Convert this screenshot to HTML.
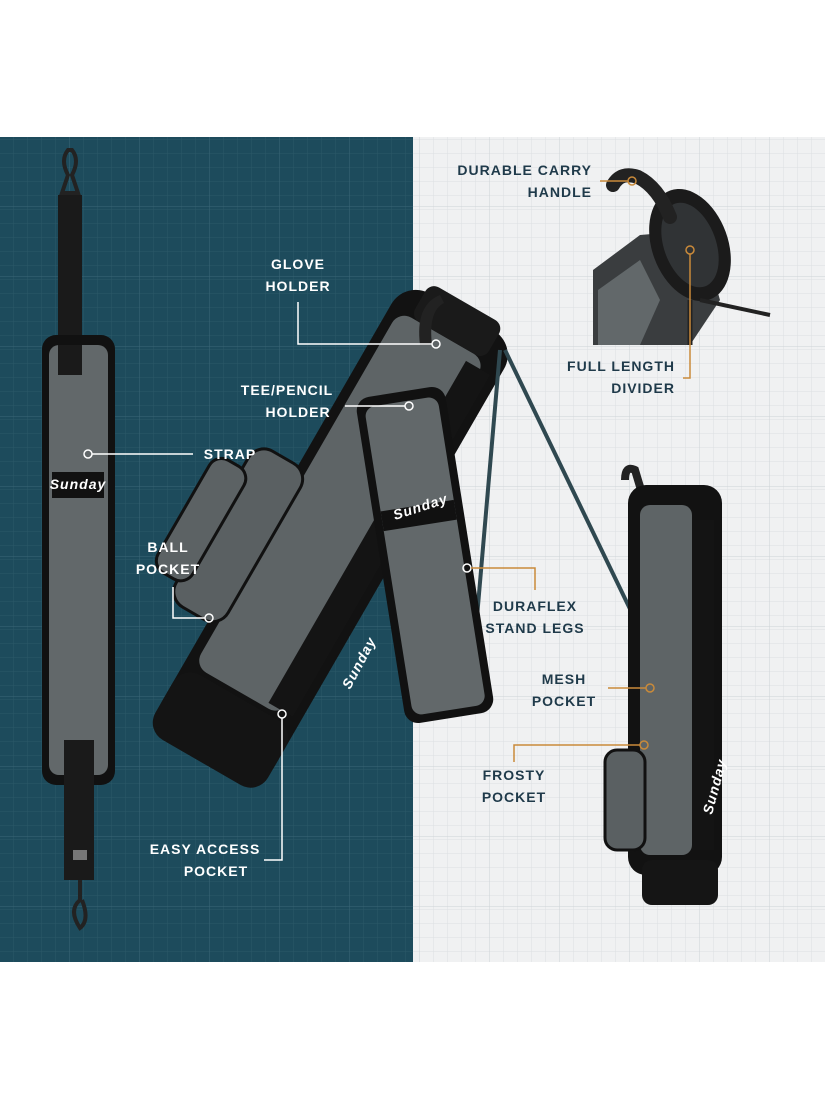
<!DOCTYPE html>
<html><head><meta charset="utf-8"><style>
html,body{margin:0;padding:0;background:#fff}
svg{display:block}
text{font-family:"Liberation Sans",sans-serif;font-weight:bold;font-size:14px;letter-spacing:1px}
</style></head><body>
<svg width="825" height="1100" viewBox="0 0 825 1100" xmlns="http://www.w3.org/2000/svg">
<defs>
<pattern id="gd" width="14" height="14" patternUnits="userSpaceOnUse"><path d="M14 0V14H0" fill="none" stroke="#2c5868" stroke-width="1"/></pattern>
<pattern id="gdm" x="0" y="137" width="70" height="70" patternUnits="userSpaceOnUse"><path d="M70 0V70H0" fill="none" stroke="#3b6777" stroke-width="1"/></pattern>
<pattern id="gl" width="14" height="14" patternUnits="userSpaceOnUse"><path d="M14 0V14H0" fill="none" stroke="#dcdfe2" stroke-width="1"/></pattern>
<pattern id="glm" x="0" y="137" width="70" height="70" patternUnits="userSpaceOnUse"><path d="M70 0V70H0" fill="none" stroke="#cdd2d6" stroke-width="1"/></pattern>
</defs>
<rect x="0" y="0" width="825" height="1100" fill="#fff"/>
<rect x="0" y="137" width="413" height="825" fill="#1d4b5c"/>
<rect x="0" y="137" width="413" height="825" fill="url(#gd)"/>
<rect x="0" y="137" width="413" height="825" fill="url(#gdm)"/>
<rect x="413" y="137" width="412" height="825" fill="#f0f1f2"/>
<rect x="413" y="137" width="412" height="825" fill="url(#gl)"/>
<rect x="413" y="137" width="412" height="825" fill="url(#glm)"/>

<!-- strap -->
<path d="M68 150 q-8 10 0 25 l-6 18 h16 l-6 -18 q8 -15 0 -25z" fill="none" stroke="#222" stroke-width="4"/>
<rect x="58" y="195" width="24" height="150" fill="#1a1a1a"/>
<rect x="42" y="335" width="73" height="450" rx="14" fill="#111"/>
<rect x="49" y="345" width="59" height="430" rx="10" fill="#62686a"/>
<rect x="58" y="345" width="24" height="30" fill="#1a1a1a"/>
<rect x="52" y="472" width="52" height="26" fill="#111"/>
<text x="78" y="489" fill="#fff" font-size="10" text-anchor="middle" font-style="italic" letter-spacing="0">Sunday</text>
<rect x="64" y="740" width="30" height="140" fill="#1a1a1a"/>
<rect x="73" y="850" width="14" height="10" fill="#777"/>
<path d="M80 880 v20 q-12 10 0 28 q10 -8 2 -28" fill="none" stroke="#222" stroke-width="4"/>

<!-- middle bag -->
<g transform="rotate(30 325 545)">
<rect x="262" y="275" width="130" height="515" rx="28" fill="#121212"/>
<rect x="272" y="305" width="100" height="410" rx="14" fill="#5e6466"/>
<rect x="355" y="315" width="28" height="395" fill="#141414"/>
<rect x="262" y="720" width="130" height="75" rx="20" fill="#141414"/>
<rect x="215" y="490" width="60" height="180" rx="18" fill="#5a6062" stroke="#111" stroke-width="3"/>
<rect x="185" y="520" width="40" height="130" rx="14" fill="#5c6264" stroke="#111" stroke-width="3"/>
<rect x="285" y="265" width="85" height="40" rx="10" fill="#1a1a1a"/>
</g>
<text x="350" y="690" fill="#fff" font-size="15" font-style="italic" transform="rotate(-62 350 690)">Sunday</text>
<path d="M420 345 q-5 -40 20 -50 l4 8 q-16 8 -12 42z" fill="#222"/>
<!-- stand legs -->
<line x1="500" y1="350" x2="474" y2="652" stroke="#2f4850" stroke-width="4"/>
<line x1="505" y1="350" x2="645" y2="640" stroke="#2f4850" stroke-width="4"/>
<!-- strap over bag -->
<g transform="rotate(-9 425 555)">
<rect x="380" y="390" width="90" height="330" rx="14" fill="#111"/>
<rect x="388" y="400" width="74" height="312" rx="10" fill="#62686a"/>
<rect x="388" y="505" width="74" height="20" fill="#111"/>
</g>
<text x="395" y="520" fill="#fff" font-size="9" font-style="italic" letter-spacing="0" transform="rotate(-18 395 520)">Sunday</text>

<!-- top-right inset -->
<path d="M593 270 L640 235 L700 230 L720 300 L690 345 L593 345z" fill="#3a3d3f"/>
<path d="M598 290 L640 260 L660 300 L640 345 L598 345z" fill="#62686a"/>
<ellipse cx="690" cy="245" rx="38" ry="58" transform="rotate(-20 690 245)" fill="#1b1b1b"/>
<ellipse cx="690" cy="245" rx="26" ry="44" transform="rotate(-20 690 245)" fill="#303335"/>
<path d="M613 185 q8 -14 25 -8 q20 10 32 40" stroke="#222" stroke-width="14" fill="none" stroke-linecap="round"/>
<line x1="700" y1="300" x2="770" y2="315" stroke="#222" stroke-width="4"/>
<line x1="690" y1="300" x2="690" y2="345" stroke="#222" stroke-width="5"/>

<!-- right bag -->
<path d="M625 480 q0 -15 10 -10 l6 20" stroke="#222" stroke-width="8" fill="none"/>
<rect x="628" y="485" width="94" height="390" rx="18" fill="#121212"/>
<rect x="640" y="505" width="52" height="350" rx="10" fill="#5e6466"/>
<rect x="692" y="520" width="22" height="330" fill="#141414"/>
<rect x="605" y="750" width="40" height="100" rx="12" fill="#5a6062" stroke="#111" stroke-width="3"/>
<rect x="642" y="860" width="76" height="45" rx="10" fill="#151515"/>
<text x="712" y="815" fill="#fff" font-size="14" font-style="italic" transform="rotate(-75 712 815)">Sunday</text>

<!-- labels dark side -->
<g fill="#fff">
<text x="298" y="269" text-anchor="middle">GLOVE</text>
<text x="298" y="291" text-anchor="middle">HOLDER</text>
<text x="287" y="395" text-anchor="middle">TEE/PENCIL</text>
<text x="298" y="417" text-anchor="middle">HOLDER</text>
<text x="230" y="459" text-anchor="middle">STRAP</text>
<text x="168" y="552" text-anchor="middle">BALL</text>
<text x="168" y="574" text-anchor="middle">POCKET</text>
<text x="205" y="854" text-anchor="middle">EASY ACCESS</text>
<text x="216" y="876" text-anchor="middle">POCKET</text>
</g>
<g fill="none" stroke="#fff" stroke-width="1.5">
<polyline points="298,302 298,344 432,344"/><circle cx="436" cy="344" r="4"/>
<polyline points="345,406 405,406"/><circle cx="409" cy="406" r="4"/>
<polyline points="92,454 193,454"/><circle cx="88" cy="454" r="4"/>
<polyline points="173,587 173,618 205,618"/><circle cx="209" cy="618" r="4"/>
<polyline points="282,718 282,860 264,860"/><circle cx="282" cy="714" r="4"/>
<circle cx="467" cy="568" r="4"/>
</g>
<!-- labels light side -->
<g fill="#1f3a4a">
<text x="592" y="175" text-anchor="end">DURABLE CARRY</text>
<text x="592" y="197" text-anchor="end">HANDLE</text>
<text x="675" y="371" text-anchor="end">FULL LENGTH</text>
<text x="675" y="393" text-anchor="end">DIVIDER</text>
<text x="535" y="611" text-anchor="middle">DURAFLEX</text>
<text x="535" y="633" text-anchor="middle">STAND LEGS</text>
<text x="564" y="684" text-anchor="middle">MESH</text>
<text x="564" y="706" text-anchor="middle">POCKET</text>
<text x="514" y="780" text-anchor="middle">FROSTY</text>
<text x="514" y="802" text-anchor="middle">POCKET</text>
</g>
<g fill="none" stroke="#c98a3a" stroke-width="1.5">
<polyline points="600,181 628,181"/><circle cx="632" cy="181" r="4"/>
<polyline points="690,254 690,378 683,378"/><circle cx="690" cy="250" r="4"/>
<polyline points="471,568 535,568 535,590"/>
<polyline points="608,688 646,688"/><circle cx="650" cy="688" r="4"/>
<polyline points="514,762 514,745 640,745"/><circle cx="644" cy="745" r="4"/>
</g>
</svg>
</body></html>
